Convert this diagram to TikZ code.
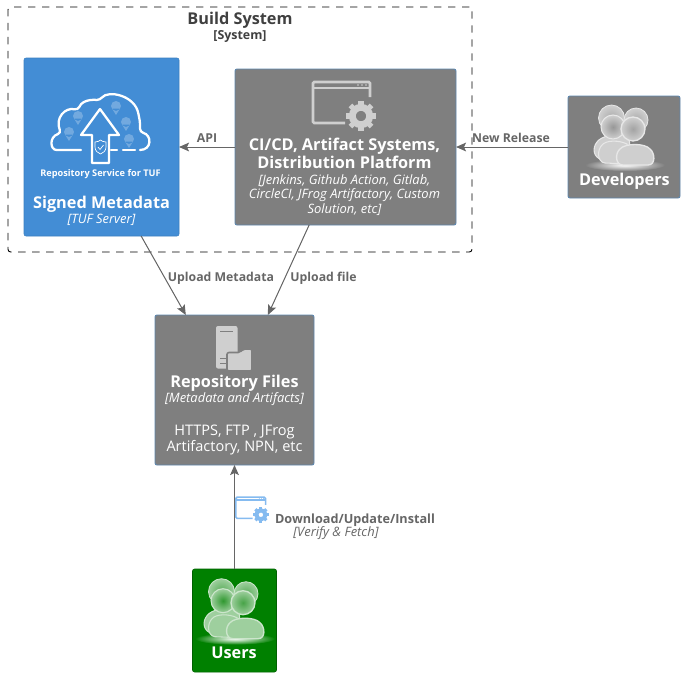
\documentclass[tikz,border=0pt]{standalone}
\usepackage{fontspec}
\setmainfont{Open Sans}
\usepackage{xcolor}
\usetikzlibrary{arrows.meta,positioning}
\definecolor{serverblue}{HTML}{438DD5}
\definecolor{boxgray}{HTML}{7F7F7F}
\definecolor{usergreen}{HTML}{008000}
\definecolor{edgegray}{HTML}{666666}
\definecolor{iconblue}{HTML}{85BBF0}
\definecolor{icongray}{HTML}{CFCFCF}
\tikzset{
  pics/appwindow/.style={code={
    \draw[#1, rounded corners=1pt] (28,-5) -- (28,-20) -- (-29,-20) -- (-29,21) -- (3,21);
    \draw[#1] (-29,-14) -- (28,-14);
    \foreach \dotx in {16,20,24} \fill[#1] (\dotx,-17) circle (0.9);
    \draw[#1, line width=1.6\pgflinewidth] (19,14) circle (8.7);
    \foreach \toothangle in {0,45,...,315}
      \draw[#1, line width=1.4\pgflinewidth] (19,14) ++(\toothangle:10) -- ++(\toothangle:5);
  }},
  pics/crowd/.style n args={3}{code={
    \shade[inner color=#1!55!#2, outer color=#1, draw=#3, line width=0.6pt] (-13.5,-22) circle (13);
    \shade[inner color=#1!55!#2, outer color=#1, draw=#3, line width=0.6pt] (11,-20) circle (12);
    \shade[inner color=white, outer color=#2] (0,25) ellipse (40 and 6);
    \draw[#3, fill=#1, line width=0.8pt] (-22,20) .. controls (-32,18) and (-33,8) .. (-28,2) .. controls (-24,-4) and (-8,-8) .. (4,-4) -- (6,21) -- cycle;
    \draw[#3, fill=#1, line width=0.8pt] (-20,23) .. controls (-28,22) and (-28,10) .. (-23,5) .. controls (-19,0) and (-6,0) .. (2,4) -- (4,24) -- cycle;
    \shade[inner color=#1!30!#2, outer color=#1, draw=#3, line width=0.8pt] (-12,-13) circle (12);
    \draw[#3, fill=#1, line width=1pt] (-2,25) .. controls (-10,25) and (-10,13) .. (-5,9) .. controls (0,3) and (20,3) .. (25,9) .. controls (30,13) and (31,25) .. (23,25) -- cycle;
    \shade[inner color=#1!45!#2, outer color=#1, draw=#3, line width=1pt] (8,-11) circle (12);
  }}
}
\begin{document}
\begin{tikzpicture}[
  x=0.75pt, y=-0.75pt,
  boundarybox/.style={draw=black, line width=0.7pt, dash pattern=on 5.5pt off 5pt, rounded corners=2pt, minimum width=348pt, minimum height=183.75pt, outer sep=0pt},
  serverbox/.style={draw=serverblue!90!black, fill=serverblue, rounded corners=1.5pt, minimum width=116.25pt, minimum height=133.5pt, outer sep=0pt},
  toolbox/.style={draw=serverblue!55!boxgray, line width=0.7pt, fill=boxgray, rounded corners=1.5pt, outer sep=0pt},
  userbox/.style={draw=usergreen!75!black, fill=usergreen, rounded corners=1.5pt, minimum width=63pt, minimum height=77.25pt, outer sep=0pt},
  headtext/.style={text=white, font=\bfseries\fontsize{12.2}{13.5}\selectfont, align=center, inner sep=0pt},
  techtext/.style={text=white, font=\itshape\fontsize{9.7}{10.9}\selectfont, align=center, inner sep=0pt},
  bodytext/.style={text=white, font=\fontsize{10.9}{12}\selectfont, align=center, inner sep=0pt},
  edge/.style={-{Stealth[length=7.5pt, width=6.5pt, inset=1.5pt]}, draw=edgegray, fill=edgegray, line width=0.75pt},
  edgelabel/.style={text=edgegray, font=\bfseries\fontsize{9.2}{11}\selectfont, inner sep=0pt},
  edgetech/.style={text=edgegray, font=\itshape\fontsize{9.7}{11}\selectfont, inner sep=0pt},
  icon/.style={line width=2pt, rounded corners=1pt}
]
\useasboundingbox (0,0) rectangle (684,676);

\node[boundarybox] (buildsys) at (240,129.5) {};
\node[text=black!75, font=\bfseries\fontsize{12.2}{14}\selectfont, inner sep=0pt] (buildtitle) at (240,20) {Build System};
\node[text=black!75, font=\bfseries\fontsize{9.3}{10}\selectfont, inner sep=0pt] (buildtag) at (240,36) {[System]};

\node[serverbox] (meta) at (101.5,147) {};
\node[toolbox, minimum width=165.75pt, minimum height=117pt, right=42pt of meta] (ci) {};
\node[toolbox, minimum width=84pt, minimum height=76.5pt, right=84pt of ci] (devs) {};
\node[toolbox, minimum width=119.25pt, minimum height=112.5pt] (repo) at (234.5,390) {};
\node[userbox, below=78pt of repo] (users) {};

\node[headtext] (metahead) at (101.5,204) {Signed Metadata};
\node[techtext] (metatech) at (101.5,220) {[TUF Server]};
\node[headtext] (cihead) at (344.5,153) {CI/CD, Artifact Systems,\\Distribution Platform};
\node[techtext, below=4pt of cihead] (citech) {[Jenkins, Github Action, Gitlab,\\CircleCI, JFrog Artifactory, Custom\\Solution, etc]};
\node[headtext] (devhead) at (624.5,181) {Developers};
\node[headtext] (repohead) at (234.5,383) {Repository Files};
\node[techtext] (repotech) at (234.5,399) {[Metadata and Artifacts]};
\node[bodytext] (repobody) at (234.5,440) {HTTPS, FTP , JFrog\\Artifactory, NPN, etc};
\node[headtext] (userhead) at (234,653) {Users};
\node[text=white, font=\bfseries\fontsize{6.9}{8}\selectfont, inner sep=0pt] (cloudtext) at (100.5,174) {Repository Service for TUF};

% cloud with upload arrow
\draw[white, line width=1.7pt, line cap=round, rounded corners=2.5pt] (81,150) -- (60,150)
  .. controls (50,150) and (49,137) .. (61,133)
  .. controls (55,118) and (65,107) .. (78,110)
  .. controls (83,98) and (98,100) .. (100,100)
  .. controls (108,90) and (135,95) .. (139,117)
  .. controls (140,122) and (140,128) .. (140,132)
  .. controls (152,135) and (152,150) .. (140,150);
\draw[white, line width=1.7pt, line cap=round] (123,150) -- (135,150) (111,150) -- (117,150);
\draw[white, line width=1.7pt, line join=round] (100,109) -- (81,135) -- (92,135) -- (92,163) -- (109,163) -- (109,135) -- (119,135) -- cycle;
\draw[white, line width=0.5pt] (95,142) .. controls (98,142) and (99,141) .. (100.5,140) .. controls (102,141) and (103,142) .. (106,142) -- (106,147) .. controls (106,151) and (103,153) .. (100.5,154) .. controls (98,153) and (95,151) .. (95,147) -- cycle;
\draw[white, line width=0.5pt] (98,147) -- (100,149.5) -- (103.5,145);
\foreach \pinx/\piny in {78/116,69/132,116/106,126/122,129/139}
  \fill[white, opacity=0.25] (\pinx,\piny) circle (5) (\pinx-4,\piny+2.5) -- (\pinx,\piny+9) -- (\pinx+4,\piny+2.5) -- cycle;

\pic[icon] at (342,102) {appwindow={icongray}};
\pic[line width=1.2pt] at (251,507.5) [scale=0.52] {appwindow={iconblue}};
\pic at (625,140) {crowd={icongray}{boxgray}{white!50!icongray}};
\pic at (235,613.7) {crowd={white!62!usergreen}{usergreen}{white!80!usergreen}};

% server and folder
\fill[icongray, rounded corners=1.5pt] (216,326) rectangle (237.5,368.5);
\draw[boxgray, line width=0.8pt] (220,331.5) -- (233,331.5) (220,358.5) -- (227,358.5) (220,363.5) -- (227,363.5);
\draw[boxgray, fill=icongray, line width=1.2pt, rounded corners=1.5pt] (227,371) -- (227,352.5) -- (240,352.5) -- (243,349) -- (252,349) -- (252,371) -- cycle;

\draw[edge] (ci) -- (meta);
\draw[edge] (devs) -- (ci);
\draw[edge] (meta.-66) -- (repo.123);
\draw[edge] (ci.-115) -- (repo.66);
\draw[edge] (users) -- (repo);

\node[edgelabel] (apilabel) at (207,138) {API};
\node[edgelabel] (releaselabel) at (511,138) {New Release};
\node[edgelabel] (metalabel) at (221,278) {Upload Metadata};
\node[edgelabel] (filelabel) at (323.5,278) {Upload file};
\node[edgelabel, font=\bfseries\fontsize{9.5}{11}\selectfont] (fetchlabel) at (355,520) {Download/Update/Install};
\node[edgetech] (fetchtech) at (336,533) {[Verify \& Fetch]};
\end{tikzpicture}
\end{document}
